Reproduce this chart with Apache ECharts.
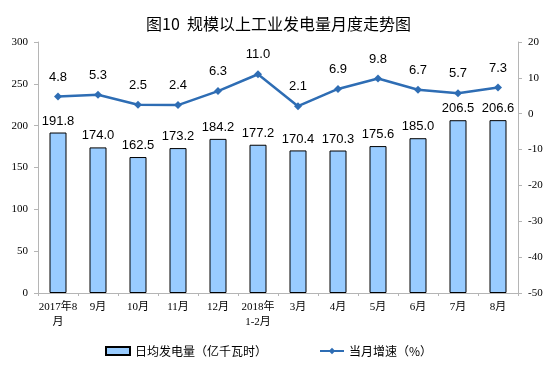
<!DOCTYPE html>
<html><head><meta charset="utf-8">
<script src="https://cdn.jsdelivr.net/npm/echarts@6/dist/echarts.min.js"></script>
<style>html,body{margin:0;padding:0;background:#fff}#c{width:557px;height:384px}</style>
</head><body><div id="c"></div>
<script>
const title = '图10  规模以上工业发电量月度走势图';
const categories = ['2017年8\n月','9月','10月','11月','12月','2018年\n1-2月','3月','4月','5月','6月','7月','8月'];
const dailyOutput = [191.8,174.0,162.5,173.2,184.2,177.2,170.4,170.3,175.6,185.0,206.5,206.6];
const growth = [4.8,5.3,2.5,2.4,6.3,11.0,2.1,6.9,9.8,6.7,5.7,7.3];
const barName = '日均发电量（亿千瓦时）';
const lineName = '当月增速（%）';
const leftTicks = [0,300,50];
const rightTicks = [-50,20,10];

const chart = echarts.init(document.getElementById('c'));
const serif = '"Liberation Serif","DejaVu Serif","Noto Sans CJK SC",serif';
const sans = '"Liberation Sans",Arial,"Noto Sans CJK SC",sans-serif';
chart.setOption({
  animation:false,
  title:{text:title,left:'center',top:11,textStyle:{fontFamily:'"Noto Sans CJK SC",sans-serif',fontSize:16,fontWeight:'normal',color:'#000'}},
  grid:{left:38,right:39,top:42,bottom:91,containLabel:false},
  legend:{bottom:22,left:100,itemGap:52,itemWidth:24,itemHeight:8,
    textStyle:{fontFamily:'"Noto Sans CJK SC",sans-serif',fontSize:12,color:'#000'},
    data:[{name:barName,icon:'rect'},{name:lineName}]},
  xAxis:{type:'category',data:categories,
    axisLine:{lineStyle:{color:'#b5b5b5'}},
    axisTick:{show:true,alignWithLabel:false,length:3,lineStyle:{color:'#b5b5b5'}},
    axisLabel:{interval:0,fontFamily:serif,fontSize:11,color:'#000',lineHeight:15,margin:7}},
  yAxis:[
    {type:'value',min:leftTicks[0],max:leftTicks[1],interval:leftTicks[2],splitLine:{show:false},
     axisLine:{show:true,lineStyle:{color:'#b5b5b5'}},axisTick:{show:true,length:4,lineStyle:{color:'#b5b5b5'}},
     axisLabel:{fontFamily:serif,fontSize:11,color:'#000',margin:10}},
    {type:'value',min:rightTicks[0],max:rightTicks[1],interval:rightTicks[2],splitLine:{show:false},
     axisLine:{show:true,lineStyle:{color:'#b5b5b5'}},axisTick:{show:true,length:4,lineStyle:{color:'#b5b5b5'}},
     axisLabel:{fontFamily:serif,fontSize:11,color:'#000',margin:10}}
  ],
  series:[
    {name:barName,type:'bar',data:dailyOutput,barWidth:17,yAxisIndex:0,
     itemStyle:{color:'#99CCFF',borderColor:'#000',borderWidth:1},
     label:{show:true,position:'top',distance:5,fontFamily:sans,fontSize:13,color:'#000',formatter:p=>p.value.toFixed(1)}},
    {name:lineName,type:'line',data:growth,yAxisIndex:1,symbol:'diamond',symbolSize:8,
     lineStyle:{color:'#2E6DB4',width:2.5},itemStyle:{color:'#2E6DB4'},
     label:{show:true,position:'top',distance:9,fontFamily:sans,fontSize:13,color:'#000',formatter:p=>p.value.toFixed(1)}}
  ]
});
</script></body></html>
